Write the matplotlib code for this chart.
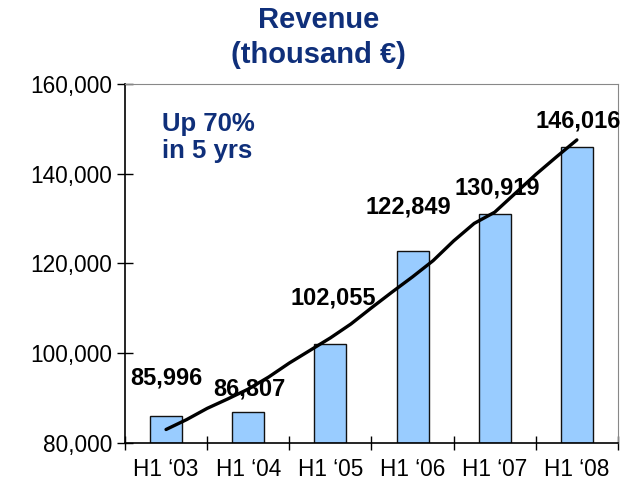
import matplotlib
matplotlib.use("Agg")
import matplotlib.pyplot as plt
from matplotlib.ticker import FuncFormatter, FixedLocator
import numpy as np

plt.rcParams["font.family"] = ["Liberation Sans", "DejaVu Sans"]

NAVY = "#0F2F7A"

periods = ["H1 \u201803", "H1 \u201804", "H1 \u201805", "H1 \u201806", "H1 \u201807", "H1 \u201808"]
revenue = [85996, 86807, 102055, 122849, 130919, 146016]

# trend line (category index, value)
trend_x = [0.0, 0.25, 0.5, 0.75, 1.0, 1.25, 1.5, 1.75, 2.0, 2.25, 2.5, 2.75, 3.0,
           3.25, 3.5, 3.75, 4.0, 4.25, 4.5, 4.75, 5.0]
trend_y = [83000, 85200, 87700, 89800, 92000, 94700, 97800, 100600, 103400, 106500,
           110100, 113600, 117000, 120600, 125000, 128900, 131400, 135600, 139800,
           143700, 147500]

# label offsets (x shift in categories, y in value units)
lab_dx = [0.0, 0.01, 0.04, -0.05, 0.03, 0.02]
lab_dy = [8500, 5200, 10200, 9700, 5900, 5700]

fig = plt.figure(figsize=(6.28, 4.9), dpi=100)
ax = fig.add_axes([0.199, 0.096, 0.785, 0.733])

x = np.arange(len(periods))
ax.bar(x, [v - 80000 for v in revenue], bottom=80000, width=0.39,
       color="#99CCFF", edgecolor="#111111", linewidth=1.0, zorder=2)
ax.plot(trend_x, trend_y, color="black", lw=2.4, zorder=3, solid_capstyle="round")

for i, v in enumerate(revenue):
    ax.text(i + lab_dx[i], v + lab_dy[i], f"{v:,}", ha="center", va="center",
            fontsize=17, weight="bold", color="black", zorder=4)

ax.set_xlim(-0.5, len(periods) - 0.5)
ax.set_ylim(80000, 160000)
ax.set_yticks(range(80000, 160001, 20000))
ax.yaxis.set_major_formatter(FuncFormatter(lambda v, p: f"{int(v):,}"))
ax.set_xticks(x)
ax.set_xticklabels(periods)
ax.xaxis.set_minor_locator(FixedLocator(np.arange(-0.5, len(periods), 1.0)))
ax.tick_params(axis="x", which="major", length=0, labelsize=16.3, pad=11)
ax.tick_params(axis="x", which="minor", direction="inout", length=10, width=1)
ax.tick_params(axis="y", direction="inout", length=12, width=1, labelsize=16.3, pad=3)

ax.spines["left"].set_color("black")
ax.spines["bottom"].set_color("black")
ax.spines["left"].set_linewidth(1.2)
ax.spines["bottom"].set_linewidth(1.2)
ax.spines["top"].set_color("#888888")
ax.spines["right"].set_color("#888888")

fig.text(0.507, 0.96, "Revenue", ha="center", va="center", fontsize=21,
         weight="bold", color=NAVY)
fig.text(0.507, 0.887, "(thousand \u20ac)", ha="center", va="center", fontsize=21,
         weight="bold", color=NAVY)
ax.text(0.075, 0.85, "Up 70%\nin 5 yrs", transform=ax.transAxes, ha="left", va="center",
        fontsize=18.5, weight="bold", color=NAVY, linespacing=1.15)

fig.savefig("out.png", dpi=100)
